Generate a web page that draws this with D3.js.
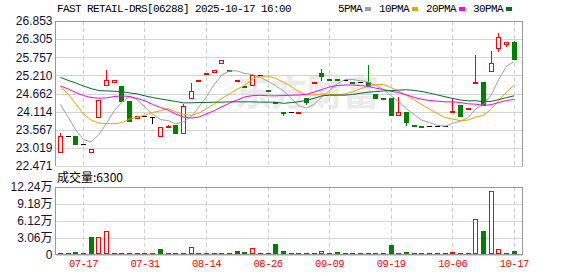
<!DOCTYPE html>
<html lang="zh">
<head>
<meta charset="UTF-8">
<title>FAST RETAIL-DRS K线</title>
<style>
  body { margin: 0; padding: 0; background: #fff; }
  svg { display: block; }
</style>
</head>
<body>
<script src="https://d3js.org/d3.v7.min.js"></script>
<script>
// 日K数据
const open  = [22.89,23.37,23.38,23.14,22.89,23.94,24.91,25.00,24.89,24.44, 23.91,23.97,23.96,23.39,23.64,23.71,23.48,24.54,25.06,25.26,
               25.30,25.57,25.37,25.06,24.88,24.91,25.22,24.78,24.41,24.10, 24.09,24.10,24.52,24.99,25.27,25.10,25.09,25.07,25.01,25.00,
               25.00,24.64,24.53,24.54,24.02,24.09,23.70,23.68,23.67,23.67, 23.67,24.10,24.31,24.20,24.98,25.00,25.35,26.03,26.15,26.23];
const high  = [23.48,23.37,23.38,23.14,22.99,24.46,25.37,25.06,24.89,24.44, 23.97,23.97,23.96,23.64,23.70,23.71,24.35,24.99,25.07,25.27,
               25.36,25.67,25.37,25.07,24.88,25.22,25.22,24.78,24.41,24.10, 24.09,24.11,24.52,25.00,25.40,25.10,25.09,25.07,25.01,25.00,
               25.52,24.64,24.53,24.54,24.55,24.09,23.70,23.68,23.67,23.67, 23.67,24.52,24.31,24.21,25.83,25.00,25.95,26.48,26.21,26.25];
const low   = [22.89,23.37,23.14,23.14,22.89,23.94,24.91,25.00,24.44,23.84, 23.91,23.97,23.76,23.39,23.64,23.48,23.48,24.54,25.06,25.26,
               25.30,25.57,25.35,25.06,24.87,24.91,25.22,24.77,24.40,24.01, 24.09,24.10,24.35,24.99,25.07,25.09,25.08,25.07,25.00,25.00,
               24.90,24.54,24.52,24.01,24.02,23.71,23.69,23.67,23.67,23.67, 23.67,24.10,23.99,24.20,24.98,24.31,25.35,25.96,26.10,25.70];
const close = [23.37,23.37,23.14,23.14,22.99,24.46,25.06,25.06,24.44,23.84, 23.97,23.97,23.96,23.64,23.67,23.48,24.28,24.73,25.07,25.27,
               25.36,25.67,25.35,25.07,24.87,25.22,25.22,24.77,24.40,24.09, 24.09,24.11,24.40,25.00,25.19,25.09,25.08,25.07,25.00,25.00,
               24.90,24.54,24.52,24.01,24.09,23.81,23.69,23.67,23.67,23.67, 23.67,24.12,23.99,24.21,25.00,24.31,25.57,26.36,26.21,25.70];
const volume = [3000,1000,5400,1800,32000,31500,42600,3000,3000,1500, 1000,1000,300,10000,1000,3000,1000,13200,1000,1000,
                1000,1000,1000,6600,4800,11400,1000,1000,19200,6600, 1000,1000,1000,1000,6000,1000,4000,300,1000,1000,
                1000,3000,1000,17100,300,5000,3000,1000,1000,3000, 1000,4800,1000,1000,65200,42300,114300,9400,1000,6300];

// 窗口之前的均线值（历史数据不在图中，直接从图上读）
const ma5Head  = [24.34,23.95,23.56,23.27];
const ma10Head = [24.87,24.65,24.35,24.04,23.86,23.77,23.75,23.75,23.78];
const ma20Head = [24.89,24.80,24.69,24.60,24.54,24.52,24.53,24.57,24.59,24.57,24.51,24.44,24.33,24.24,24.16,24.04,23.95,23.92,23.95];
const ma30Head = [25.15,25.06,24.98,24.89,24.81,24.75,24.74,24.73,24.72,24.68,24.65,24.59,24.54,24.50,24.46,24.42,24.38,24.38,24.39,24.39,
                  24.40,24.40,24.41,24.41,24.41,24.41,24.40,24.40,24.40];

const priceTicks = [22.471,23.019,23.567,24.114,24.662,25.210,25.757,26.305,26.853];
const volTicks = [0,30600,61200,91800,122400];
const volTickLabels = ['0','3.06万','6.12万','9.18万','12.24万'];
const dateIdx = [3,11,19,27,35,43,51,59];
const dateLabels = ['07-17','07-31','08-14','08-26','09-09','09-19','10-06','10-17'];
const maNames = ['5PMA','10PMA','20PMA','30PMA'];
const maColors = ['#a0a0a0','#f0a000','#ff00ff','#006f2e'];

const width = 578, height = 276;
const L = 55.5, R = 522.5, pTop = 21, pBot = 166, vTop = 187, vBot = 254.5;
const RED = '#ff0000', GREEN = '#008000';

const svg = d3.select('body').append('svg').attr('width', width).attr('height', height);

const x = d3.scaleBand().domain(d3.range(close.length)).range([56.5, 518.1]);
const cx = i => Math.round(x(i) + x.bandwidth() / 2 - 0.5);
const y = d3.scaleLinear().domain([22.471, 26.853]).range([pBot, pTop]);
const yv = d3.scaleLinear().domain([0, 122400]).range([vBot, vTop]);

// 标题和图例
svg.append('text').attr('x', 57).attr('y', 12)
  .attr('font-family', 'Liberation Mono').attr('font-size', 11).attr('letter-spacing', -0.6)
  .attr('fill', '#000').text('FAST RETAIL-DRS[06288] 2025-10-17 16:00');

let lx = 338;
maNames.forEach((n, k) => {
  const t = svg.append('text').attr('x', lx).attr('y', 12)
    .attr('font-family', 'Liberation Mono').attr('font-size', 11).attr('letter-spacing', -0.6)
    .attr('fill', '#000').text(n);
  const w = t.node().getComputedTextLength();
  svg.append('rect').attr('x', Math.round(lx + w + 3)).attr('y', 7).attr('width', 6).attr('height', 4)
    .attr('fill', maColors[k]);
  lx = Math.round(lx + w + 3) + 6 + 8;
});

// 水印
svg.append('text').attr('x', 235).attr('y', 106)
  .attr('font-family', 'Noto Sans CJK SC').attr('font-weight', 'bold').attr('font-size', 36)
  .attr('fill', '#ebebeb').text('东方财富');

// 网格
const grid = svg.append('g').attr('shape-rendering', 'crispEdges');
grid.selectAll('.hp').data(priceTicks).join('line')
  .attr('x1', L).attr('x2', R).attr('y1', d => Math.round(y(d)) + 0.5).attr('y2', d => Math.round(y(d)) + 0.5)
  .attr('stroke', '#d4d4d4');
grid.selectAll('.hv').data(volTicks).join('line')
  .attr('x1', L).attr('x2', R).attr('y1', d => Math.round(yv(d)) + 0.5).attr('y2', d => Math.round(yv(d)) + 0.5)
  .attr('stroke', '#d4d4d4');
[[pTop, pBot], [vTop, vBot]].forEach(([a, b]) => {
  grid.append('g').selectAll('line').data(dateIdx).join('line')
    .attr('x1', d => cx(d) + 0.5).attr('x2', d => cx(d) + 0.5).attr('y1', a).attr('y2', b)
    .attr('stroke', '#cfcfcf').attr('stroke-dasharray', '4,3');
});

// 边框
[[pTop, pBot], [vTop, vBot]].forEach(([a, b]) => {
  svg.append('path').attr('d', `M${L},${b}V${a + 0.5}H${R}V${b}`)
    .attr('fill', 'none').attr('stroke', '#999').attr('shape-rendering', 'crispEdges');
});
svg.append('line').attr('x1', L).attr('x2', R).attr('y1', vBot).attr('y2', vBot)
  .attr('stroke', '#999').attr('shape-rendering', 'crispEdges');

// 坐标轴文字
const yAxis = svg.append('g').attr('transform', `translate(${L},0)`)
  .call(d3.axisLeft(y).tickValues(priceTicks).tickFormat(d3.format('.3f')).tickSize(0).tickPadding(3));
const vAxis = svg.append('g').attr('transform', `translate(${L},0)`)
  .call(d3.axisLeft(yv).tickValues(volTicks).tickFormat((d, i) => volTickLabels[i]).tickSize(0).tickPadding(3));
[yAxis, vAxis].forEach(g => {
  g.select('.domain').remove();
  g.selectAll('text').attr('font-family', 'Liberation Sans, Noto Sans CJK SC').attr('font-size', 12).attr('fill', '#111133');
});

const xAxis = svg.append('g').attr('transform', `translate(0,${vBot})`)
  .call(d3.axisBottom(x).tickValues(dateIdx).tickFormat((d, i) => dateLabels[i]).tickSize(0).tickPadding(5));
xAxis.select('.domain').remove();
xAxis.selectAll('text').attr('font-family', 'Liberation Mono').attr('font-size', 10.5)
  .attr('letter-spacing', -0.5).attr('fill', RED);

svg.append('text').attr('x', 57).attr('y', 182)
  .attr('font-family', 'Noto Sans CJK SC').attr('font-size', 12).attr('fill', '#000')
  .text('成交量:' + volume[volume.length - 1]);

// 均线
const closes = close;
function ma(n, head) {
  return closes.map((c, i) => i < n - 1 ? head[i] : d3.mean(closes.slice(i - n + 1, i + 1)));
}
const maSeries = [ma(5, ma5Head), ma(10, ma10Head), ma(20, ma20Head), ma(30, ma30Head)];

// K线
const idx = d3.range(close.length);
const kg = svg.append('g').attr('shape-rendering', 'crispEdges');
idx.forEach(i => {
  const c = cx(i);
  const o = open[i], cl = close[i];
  const top = Math.round(y(Math.max(o, cl))), bot = Math.round(y(Math.min(o, cl)));
  const yh = Math.round(y(high[i])), yl = Math.round(y(low[i]));
  if (cl > o) {
    if (yh < top) kg.append('line').attr('x1', c + 0.5).attr('x2', c + 0.5).attr('y1', yh).attr('y2', top).attr('stroke', RED);
    if (yl > bot) kg.append('line').attr('x1', c + 0.5).attr('x2', c + 0.5).attr('y1', bot + 1).attr('y2', yl + 1).attr('stroke', RED);
    kg.append('rect').attr('x', c - 1.5).attr('y', top + 0.5).attr('width', 4).attr('height', Math.max(1, bot - top))
      .attr('fill', '#fff').attr('stroke', RED);
  } else if (cl < o) {
    kg.append('line').attr('x1', c + 0.5).attr('x2', c + 0.5).attr('y1', yh).attr('y2', yl + 1).attr('stroke', GREEN);
    kg.append('rect').attr('x', c - 2).attr('y', top).attr('width', 5).attr('height', Math.max(2, bot - top + 1))
      .attr('fill', GREEN);
  } else {
    if (yl > yh) kg.append('line').attr('x1', c + 0.5).attr('x2', c + 0.5).attr('y1', yh).attr('y2', yl + 1).attr('stroke', '#000');
    kg.append('line').attr('x1', c - 2).attr('x2', c + 3).attr('y1', top + 0.5).attr('y2', top + 0.5).attr('stroke', '#000');
  }
});

const line = d3.line().x((d, i) => x(i) + x.bandwidth() / 2).y(d => y(d));
svg.append('g').selectAll('path').data(maSeries).join('path')
  .attr('d', d => line(d)).attr('fill', 'none')
  .attr('stroke', (d, k) => maColors[k]).attr('stroke-width', 1);

// 成交量
const vg = svg.append('g').attr('shape-rendering', 'crispEdges');
idx.forEach(i => {
  const c = cx(i);
  const up = i === 0 ? close[i] >= open[i] : close[i] >= close[i - 1];
  const yt = Math.round(yv(volume[i]));
  const base = Math.floor(vBot);
  const h = Math.max(1, base - yt);
  if (up) {
    if (h > 2) {
      vg.append('rect').attr('x', c - 1.5).attr('y', base - h + 0.5).attr('width', 4).attr('height', h - 1)
        .attr('fill', '#fff').attr('stroke', RED);
    } else {
      vg.append('rect').attr('x', c - 2).attr('y', base - h).attr('width', 5).attr('height', h).attr('fill', RED);
    }
  } else {
    vg.append('rect').attr('x', c - 2).attr('y', base - h).attr('width', 5).attr('height', h).attr('fill', GREEN);
  }
});
</script>
</body>
</html>
